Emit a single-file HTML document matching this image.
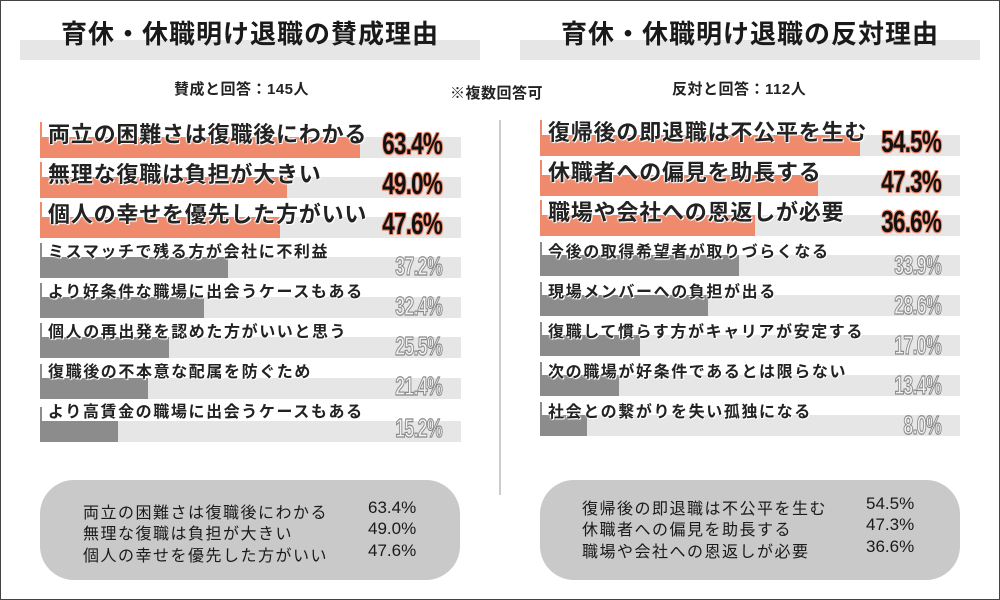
<!DOCTYPE html>
<html><head><meta charset="utf-8"><style>
*{margin:0;padding:0;box-sizing:border-box}
body{width:1000px;height:600px;background:#fff;position:relative;overflow:hidden;font-family:"Liberation Sans","Noto Sans CJK JP",sans-serif;color:#222}
#frame{position:absolute;left:0;top:0;width:1000px;height:600px;border:1px solid #444}
.a{position:absolute}
.band{position:absolute;height:20px;background:#e6e6e6;top:40px}
.title{position:absolute;top:14px;width:460px;text-align:center;font-size:26px;font-weight:bold;color:#1a1a1a;letter-spacing:1px}
.sub{position:absolute;top:78px;font-size:15px;font-weight:bold;letter-spacing:0.5px}
.track{position:absolute;height:21px;background:#e6e6e6}
.bar{position:absolute;height:21px}
.vl{position:absolute;width:2px}
.lb{position:absolute;white-space:nowrap;font-weight:bold;text-shadow:0 0 2px #fff,0 0 2px #fff,1px 1px 0 #fff,-1px -1px 0 #fff}
.big{font-size:22px;letter-spacing:0.8px}
.sm{font-size:16px;letter-spacing:1.6px;font-weight:bold}
.pc{position:absolute;width:90px;text-align:right;font-family:"Liberation Sans Narrow","Liberation Sans",sans-serif;font-weight:bold;transform-origin:right center;letter-spacing:-1px}
.po{font-size:31px;color:#111;transform:scaleX(0.72);text-shadow:0 0 2px #ef8a6c,0 0 2px #ef8a6c,1px 1px 0 #ef8a6c,-1px -1px 0 #ef8a6c,1px -1px 0 #ef8a6c,-1px 1px 0 #ef8a6c}
.pg{font-size:26px;color:#f2f2f2;-webkit-text-stroke:1.2px #888;transform:scaleX(0.68)}
.box{position:absolute;top:480px;width:420px;height:100px;border-radius:34px;background:#c9c9c9}
.bt{position:absolute;font-size:16px;white-space:nowrap;color:#1a1a1a;letter-spacing:1.5px}
.bn{position:absolute;font-size:17px;white-space:nowrap;color:#1a1a1a}
</style></head><body>
<div id="frame"></div>
<div class="band" style="left:20px;width:460px"></div>
<div class="band" style="left:520px;width:460px"></div>
<div class="title" style="left:20px">育休・休職明け退職の賛成理由</div>
<div class="title" style="left:520px">育休・休職明け退職の反対理由</div>
<div class="sub" style="left:174px">賛成と回答：145人</div>
<div class="sub" style="left:450px;top:82px">※複数回答可</div>
<div class="sub" style="left:672px">反対と回答：112人</div>
<div class="a" style="left:499px;top:120px;width:2px;height:375px;background:#ccc"></div>

<div class="track" style="left:40px;top:137px;width:421px"></div><div class="bar" style="left:40px;top:137px;width:320px;background:#ef8a6c"></div><div class="vl" style="left:40px;top:122px;height:15px;background:#ef8a6c"></div>
<div class="lb big" style="left:48px;top:117px">両立の困難さは復職後にわかる</div><div class="pc po" style="left:352px;top:126px">63.4%</div>

<div class="track" style="left:40px;top:177px;width:421px"></div><div class="bar" style="left:40px;top:177px;width:247px;background:#ef8a6c"></div><div class="vl" style="left:40px;top:162px;height:15px;background:#ef8a6c"></div>
<div class="lb big" style="left:48px;top:157px">無理な復職は負担が大きい</div><div class="pc po" style="left:352px;top:166px">49.0%</div>

<div class="track" style="left:40px;top:217px;width:421px"></div><div class="bar" style="left:40px;top:217px;width:240px;background:#ef8a6c"></div><div class="vl" style="left:40px;top:202px;height:15px;background:#ef8a6c"></div>
<div class="lb big" style="left:48px;top:197px">個人の幸せを優先した方がいい</div><div class="pc po" style="left:352px;top:206px">47.6%</div>

<div class="track" style="left:40px;top:257px;width:421px"></div><div class="bar" style="left:40px;top:257px;width:188px;background:#8c8c8c"></div><div class="vl" style="left:40px;top:243px;height:14px;background:#8c8c8c"></div>
<div class="lb sm" style="left:48px;top:238px">ミスマッチで残る方が会社に不利益</div><div class="pc pg" style="left:352px;top:251px">37.2%</div>

<div class="track" style="left:40px;top:297px;width:421px"></div><div class="bar" style="left:40px;top:297px;width:164px;background:#8c8c8c"></div><div class="vl" style="left:40px;top:283px;height:14px;background:#8c8c8c"></div>
<div class="lb sm" style="left:48px;top:278px">より好条件な職場に出会うケースもある</div><div class="pc pg" style="left:352px;top:291px">32.4%</div>

<div class="track" style="left:40px;top:337px;width:421px"></div><div class="bar" style="left:40px;top:337px;width:129px;background:#8c8c8c"></div><div class="vl" style="left:40px;top:323px;height:14px;background:#8c8c8c"></div>
<div class="lb sm" style="left:48px;top:318px">個人の再出発を認めた方がいいと思う</div><div class="pc pg" style="left:352px;top:331px">25.5%</div>

<div class="track" style="left:40px;top:378px;width:421px"></div><div class="bar" style="left:40px;top:378px;width:108px;background:#8c8c8c"></div><div class="vl" style="left:40px;top:364px;height:14px;background:#8c8c8c"></div>
<div class="lb sm" style="left:48px;top:358px">復職後の不本意な配属を防ぐため</div><div class="pc pg" style="left:352px;top:371px">21.4%</div>

<div class="track" style="left:40px;top:421px;width:421px"></div><div class="bar" style="left:40px;top:421px;width:78px;background:#8c8c8c"></div><div class="vl" style="left:40px;top:407px;height:14px;background:#8c8c8c"></div>
<div class="lb sm" style="left:48px;top:398px">より高賃金の職場に出会うケースもある</div><div class="pc pg" style="left:352px;top:413px">15.2%</div>

<div class="track" style="left:540px;top:135px;width:420px"></div><div class="bar" style="left:540px;top:135px;width:320px;background:#ef8a6c"></div><div class="vl" style="left:540px;top:120px;height:15px;background:#ef8a6c"></div>
<div class="lb big" style="left:548px;top:115px">復帰後の即退職は不公平を生む</div><div class="pc po" style="left:851px;top:124px">54.5%</div>

<div class="track" style="left:540px;top:175px;width:420px"></div><div class="bar" style="left:540px;top:175px;width:278px;background:#ef8a6c"></div><div class="vl" style="left:540px;top:160px;height:15px;background:#ef8a6c"></div>
<div class="lb big" style="left:548px;top:155px">休職者への偏見を助長する</div><div class="pc po" style="left:851px;top:164px">47.3%</div>

<div class="track" style="left:540px;top:215px;width:420px"></div><div class="bar" style="left:540px;top:215px;width:215px;background:#ef8a6c"></div><div class="vl" style="left:540px;top:200px;height:15px;background:#ef8a6c"></div>
<div class="lb big" style="left:548px;top:195px">職場や会社への恩返しが必要</div><div class="pc po" style="left:851px;top:204px">36.6%</div>

<div class="track" style="left:540px;top:255px;width:420px"></div><div class="bar" style="left:540px;top:255px;width:199px;background:#8c8c8c"></div><div class="vl" style="left:540px;top:242px;height:13px;background:#8c8c8c"></div>
<div class="lb sm" style="left:548px;top:238px">今後の取得希望者が取りづらくなる</div><div class="pc pg" style="left:851px;top:250px">33.9%</div>

<div class="track" style="left:540px;top:295px;width:420px"></div><div class="bar" style="left:540px;top:295px;width:168px;background:#8c8c8c"></div><div class="vl" style="left:540px;top:282px;height:13px;background:#8c8c8c"></div>
<div class="lb sm" style="left:548px;top:278px">現場メンバーへの負担が出る</div><div class="pc pg" style="left:851px;top:290px">28.6%</div>

<div class="track" style="left:540px;top:335px;width:420px"></div><div class="bar" style="left:540px;top:335px;width:100px;background:#8c8c8c"></div><div class="vl" style="left:540px;top:322px;height:13px;background:#8c8c8c"></div>
<div class="lb sm" style="left:548px;top:318px">復職して慣らす方がキャリアが安定する</div><div class="pc pg" style="left:851px;top:330px">17.0%</div>

<div class="track" style="left:540px;top:375px;width:420px"></div><div class="bar" style="left:540px;top:375px;width:79px;background:#8c8c8c"></div><div class="vl" style="left:540px;top:362px;height:13px;background:#8c8c8c"></div>
<div class="lb sm" style="left:548px;top:358px">次の職場が好条件であるとは限らない</div><div class="pc pg" style="left:851px;top:370px">13.4%</div>

<div class="track" style="left:540px;top:415px;width:420px"></div><div class="bar" style="left:540px;top:415px;width:47px;background:#8c8c8c"></div><div class="vl" style="left:540px;top:402px;height:13px;background:#8c8c8c"></div>
<div class="lb sm" style="left:548px;top:398px">社会との繋がりを失い孤独になる</div><div class="pc pg" style="left:851px;top:410px">8.0%</div>

<div class="box" style="left:40px"></div>
<div class="bt" style="left:83px;top:499px">両立の困難さは復職後にわかる</div><div class="bn" style="left:368px;top:498px">63.4%</div>
<div class="bt" style="left:83px;top:520px">無理な復職は負担が大きい</div><div class="bn" style="left:368px;top:519px">49.0%</div>
<div class="bt" style="left:83px;top:542px">個人の幸せを優先した方がいい</div><div class="bn" style="left:368px;top:541px">47.6%</div>

<div class="box" style="left:540px"></div>
<div class="bt" style="left:582px;top:495px">復帰後の即退職は不公平を生む</div><div class="bn" style="left:866px;top:494px">54.5%</div>
<div class="bt" style="left:582px;top:516px">休職者への偏見を助長する</div><div class="bn" style="left:866px;top:515px">47.3%</div>
<div class="bt" style="left:582px;top:538px">職場や会社への恩返しが必要</div><div class="bn" style="left:866px;top:537px">36.6%</div>
</body></html>
